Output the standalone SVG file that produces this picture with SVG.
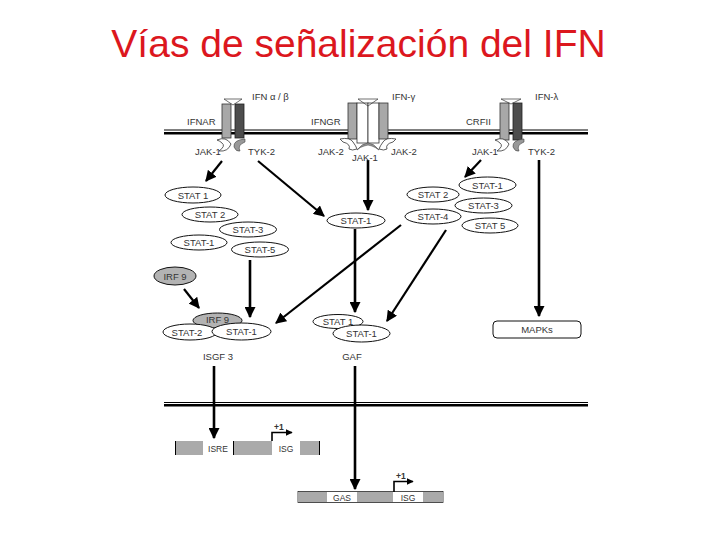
<svg xmlns="http://www.w3.org/2000/svg" width="720" height="540" viewBox="0 0 720 540">
<defs>
<style>
.t{font-family:"Liberation Sans",Arial,sans-serif;font-size:9.5px;fill:#333;}
.tm{text-anchor:middle;}
.s{font-size:8.5px;}
.el{fill:#fff;stroke:#111;stroke-width:1;}
.eg{fill:#b3b3b3;stroke:#111;stroke-width:1;}
.lg{fill:#a8a8a8;stroke:#333;stroke-width:0.8;}
.dk{fill:#4d4d4d;stroke:#222;stroke-width:0.8;}
.wb{fill:#fff;stroke:#333;stroke-width:0.8;}
.tri{fill:none;stroke:#333;stroke-width:0.7;}
.jw{fill:#fff;stroke:#333;stroke-width:0.8;}
.jg{fill:#999;stroke:#444;stroke-width:0.6;}
.ar{stroke:#000;stroke-width:2.2;fill:none;marker-end:url(#ah);}
.arv{stroke:#000;stroke-width:2.6;fill:none;marker-end:url(#ah);}
.mem1{stroke:#000;stroke-width:1;}
.mem2{stroke:#000;stroke-width:2.4;}
.dna{fill:#aaa;}
.tick{stroke:#000;stroke-width:1;}
</style>
<marker id="ah" viewBox="0 0 10 10" refX="9" refY="5" markerWidth="11" markerHeight="11" markerUnits="userSpaceOnUse" orient="auto"><path d="M0,0 L10,5 L0,10 z" fill="#000"/></marker>
<marker id="sa" viewBox="0 0 10 10" refX="9" refY="5" markerWidth="7" markerHeight="7" markerUnits="userSpaceOnUse" orient="auto"><path d="M0,0 L10,5 L0,10 z" fill="#000"/></marker>
</defs>
<rect width="720" height="540" fill="#fff"/>
<text x="358.5" y="57" text-anchor="middle" font-family="'Liberation Sans',Arial,sans-serif" font-size="39" fill="#dc171e">Vías de señalización del IFN</text>

<g id="membranes">
<line class="mem1" x1="164" y1="130" x2="588" y2="130"/>
<line class="mem2" x1="164" y1="133.2" x2="588" y2="133.2"/>
<line class="mem1" x1="164" y1="402.5" x2="588" y2="402.5"/>
<line class="mem2" x1="164" y1="405.3" x2="588" y2="405.3"/>
</g>

<g id="connectors">
<line class="ar" x1="222" y1="161" x2="206" y2="181"/>
<line class="ar" x1="258" y1="161" x2="324" y2="216"/>
<line class="arv" x1="368" y1="160" x2="368" y2="210"/>
<line class="ar" x1="481" y1="160" x2="465" y2="177"/>
<line class="arv" x1="539" y1="160" x2="539" y2="316"/>
<line class="arv" x1="250" y1="260" x2="250" y2="317"/>
<line class="ar" x1="184" y1="289" x2="199" y2="308"/>
<line class="ar" x1="401" y1="225" x2="276" y2="323"/>
<line class="ar" x1="446" y1="230" x2="387" y2="321"/>
<line class="arv" x1="355" y1="229" x2="355" y2="312"/>
<line class="arv" x1="214" y1="366" x2="214" y2="438"/>
<line class="arv" x1="355" y1="366" x2="355" y2="489"/>
</g>

<g id="IFNAR">
<rect class="lg" x="222" y="104" width="9" height="34"/>
<rect class="dk" x="235" y="104" width="9" height="34"/>
<polygon class="tri" points="224,99 242,99 233,105"/>
<path class="jw" d="M217,140 Q226,136 231,144 Q228,152 219,151 Q226,146 222,143 Q220,141 217,140 Z"/>
<path class="jg" d="M245,139 Q233,140 234,147 Q236,152 240,151 Q237,145 245,142 Z"/>
<text class="t" x="252" y="100">IFN α / β</text>
<text class="t" x="187" y="125" font-size="10">IFNAR</text>
<text class="t" x="195" y="155">JAK-1</text>
<text class="t" x="248" y="155">TYK-2</text>
</g>

<g id="IFNGR">
<rect class="lg" x="348" y="103" width="9" height="36"/>
<rect class="wb" x="357" y="103" width="11" height="40"/>
<rect class="wb" x="368" y="103" width="11" height="40"/>
<rect class="lg" x="379" y="103" width="9" height="36"/>
<polygon class="tri" points="358,99 378,99 368,106"/>
<path class="jw" d="M340,139 Q350,137 353,142 Q356,146 357,149 Q352,151 349,149 Q351,144 343,142 Z"/>
<path class="jw" d="M396,139 Q386,137 383,142 Q380,146 379,149 Q384,151 387,149 Q385,144 393,142 Z"/>
<path class="jg" d="M357,150 Q368,136 379,150 Q375,147 372,146 Q368,144 364,146 Q360,147 357,150 Z"/>
<text class="t" x="392" y="100">IFN-γ</text>
<text class="t" x="311" y="125" font-size="10">IFNGR</text>
<text class="t" x="318" y="155">JAK-2</text>
<text class="t" x="352" y="161">JAK-1</text>
<text class="t" x="391" y="155">JAK-2</text>
</g>

<g id="CRFII">
<rect class="lg" x="500" y="103" width="9" height="37"/>
<rect class="dk" x="513" y="103" width="9" height="37"/>
<polygon class="tri" points="501,99 521,99 511,104"/>
<path class="jw" d="M495,140 Q504,136 509,144 Q506,152 497,151 Q504,146 500,143 Q498,141 495,140 Z"/>
<path class="jg" d="M524,139 Q512,140 513,147 Q515,152 519,151 Q516,145 524,142 Z"/>
<text class="t" x="535" y="100">IFN-λ</text>
<text class="t" x="466" y="125" font-size="10">CRFII</text>
<text class="t" x="472" y="155">JAK-1</text>
<text class="t" x="528" y="155">TYK-2</text>
</g>

<g id="stats-left">
<ellipse class="el" cx="193" cy="195" rx="28" ry="8"/>
<text class="t tm" x="193" y="198.5">STAT 1</text>
<ellipse class="el" cx="210" cy="214.5" rx="28" ry="7.5"/>
<text class="t tm" x="210" y="218">STAT 2</text>
<ellipse class="el" cx="248" cy="229.5" rx="28.5" ry="7.5"/>
<text class="t tm" x="248" y="233">STAT-3</text>
<ellipse class="el" cx="199" cy="242.5" rx="28" ry="7.5"/>
<text class="t tm" x="199" y="246">STAT-1</text>
<ellipse class="el" cx="260" cy="249.5" rx="28.5" ry="7.5"/>
<text class="t tm" x="260" y="253">STAT-5</text>
</g>

<g id="IRF9">
<ellipse class="eg" cx="175" cy="276" rx="21" ry="9"/>
<text class="t tm" x="175" y="279.5">IRF 9</text>
</g>

<g id="stat1-mid">
<ellipse class="el" cx="356" cy="220.5" rx="29" ry="7.5"/>
<text class="t tm" x="356" y="224">STAT-1</text>
</g>

<g id="stats-right">
<ellipse class="el" cx="433" cy="194.5" rx="26" ry="7.5"/>
<text class="t tm" x="433" y="198">STAT 2</text>
<ellipse class="el" cx="487.5" cy="185" rx="28.5" ry="8"/>
<text class="t tm" x="487.5" y="188.5">STAT-1</text>
<ellipse class="el" cx="483.5" cy="205.5" rx="28.5" ry="7.5"/>
<text class="t tm" x="483.5" y="209">STAT-3</text>
<ellipse class="el" cx="433" cy="216.5" rx="28" ry="7.5"/>
<text class="t tm" x="433" y="220">STAT-4</text>
<ellipse class="el" cx="490" cy="225.5" rx="28" ry="7.5"/>
<text class="t tm" x="490" y="229">STAT 5</text>
</g>

<g id="ISGF3">
<ellipse class="eg" cx="217.5" cy="320.5" rx="24.5" ry="7.5"/>
<ellipse class="el" cx="190" cy="332" rx="27" ry="8"/>
<text class="t tm" x="187" y="335.5">STAT-2</text>
<ellipse class="el" cx="241.5" cy="331.5" rx="29.5" ry="8.5"/>
<text class="t tm" x="241.5" y="335">STAT-1</text>
<text class="t tm" x="217.5" y="322.5">IRF 9</text>
<text class="t tm" x="218" y="360">ISGF 3</text>
</g>

<g id="GAF">
<ellipse class="el" cx="338" cy="321.5" rx="25" ry="7"/>
<text class="t tm" x="338" y="325">STAT 1</text>
<ellipse class="el" cx="361.5" cy="333.5" rx="28.5" ry="8.5"/>
<text class="t tm" x="361.5" y="337">STAT-1</text>
<text class="t tm" x="352" y="360">GAF</text>
</g>

<g id="MAPKs">
<rect x="493" y="321" width="88" height="17" rx="4" fill="#fff" stroke="#111" stroke-width="1"/>
<text class="t tm" x="537" y="333">MAPKs</text>
</g>

<g id="ISRE-gene">
<rect class="dna" x="175" y="441" width="28" height="14"/>
<rect class="dna" x="233" y="441" width="39" height="14"/>
<rect class="dna" x="300" y="441" width="20" height="14"/>
<line class="tick" x1="175.5" y1="441" x2="175.5" y2="455"/>
<line class="tick" x1="233.5" y1="441" x2="233.5" y2="455"/>
<line class="tick" x1="319.5" y1="441" x2="319.5" y2="455"/>
<text class="t tm s" x="218" y="451.5">ISRE</text>
<text class="t tm s" x="286" y="451.5">ISG</text>
<polyline points="272,441 272,432.5 292,432.5" fill="none" stroke="#000" stroke-width="1.6" marker-end="url(#sa)"/>
<text class="t s" x="274" y="430" font-weight="bold">+1</text>
</g>

<g id="GAS-gene">
<rect x="298" y="491.5" width="145" height="11" fill="#fff" stroke="#222" stroke-width="0.8"/>
<rect class="dna" x="298.4" y="492" width="28.6" height="10"/>
<rect class="dna" x="357" y="492" width="36" height="10"/>
<rect class="dna" x="423" y="492" width="19.6" height="10"/>
<text class="t tm s" x="342" y="500.5">GAS</text>
<text class="t tm s" x="408" y="500.5">ISG</text>
<polyline points="394,492 394,481.5 413,481.5" fill="none" stroke="#000" stroke-width="1.6" marker-end="url(#sa)"/>
<text class="t s" x="396" y="479" font-weight="bold">+1</text>
</g>
</svg>
